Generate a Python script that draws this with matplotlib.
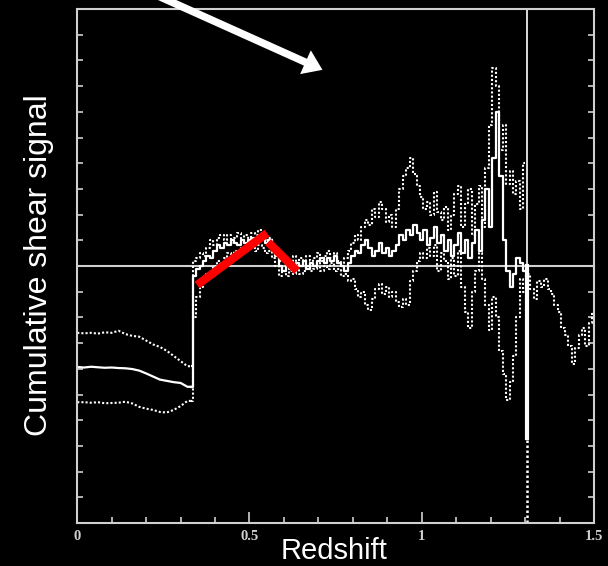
import numpy as np
import matplotlib
matplotlib.use('Agg')
import matplotlib.pyplot as plt
from matplotlib.patches import FancyArrowPatch

# redshift grids
z_low = np.round(np.arange(0.0, 0.321, 0.02), 2)
z_mid = np.round(np.arange(0.33, 1.301, 0.01), 2)
z_tail = np.round(np.arange(1.31, 1.501, 0.01), 2)

# central (solid) curve
mid_low = [-0.393, -0.395, -0.392, -0.394, -0.396, -0.395, -0.397, -0.398, -0.401,
           -0.407, -0.418, -0.43, -0.442, -0.447, -0.452, -0.455, -0.47]
mid_mid = [-0.47, -0.04, -0.01, 0.0, 0.02, 0.04, 0.03, 0.06, 0.08, 0.07,
           0.09, 0.08, 0.10, 0.09, 0.08, 0.10, 0.09, 0.10, 0.11, 0.09,
           0.10, 0.11, 0.09, 0.10, 0.07, 0.04, 0.0, -0.02, 0.01, -0.01,
           -0.02, 0.01, 0.0, 0.02, -0.01, 0.01, 0.0, 0.02, 0.03, 0.01,
           0.03, 0.02, 0.04, 0.01, 0.0, -0.02, 0.01, 0.04, 0.06, 0.05,
           0.08, 0.10, 0.07, 0.04, 0.06, 0.09, 0.05, 0.07, 0.04, 0.06,
           0.08, 0.12, 0.10, 0.14, 0.12, 0.16, 0.13, 0.10, 0.14, 0.08,
           0.11, 0.15, 0.09, 0.12, 0.06, 0.10, 0.04, 0.08, 0.13, 0.05,
           0.10, 0.03, 0.09, 0.14, 0.06, 0.18, 0.30, 0.15, 0.42, 0.60,
           0.35, 0.10, -0.02, -0.08, -0.03, 0.03, 0.01, -0.02]

# upper (dotted) curve
up_low = [-0.26, -0.262, -0.26, -0.263, -0.258, -0.26, -0.252, -0.265, -0.272,
          -0.275, -0.29, -0.305, -0.315, -0.33, -0.35, -0.37, -0.39]
up_mid = [-0.39, 0.02, 0.03, 0.05, 0.04, 0.07, 0.10, 0.08, 0.11, 0.12,
          0.10, 0.12, 0.09, 0.11, 0.13, 0.10, 0.12, 0.11, 0.13, 0.12,
          0.14, 0.12, 0.10, 0.11, 0.08, 0.06, 0.02, 0.03, 0.0, 0.02,
          0.04, 0.01, 0.03, 0.02, 0.04, 0.02, 0.03, 0.05, 0.02, 0.04,
          0.06, 0.03, 0.05, 0.02, 0.01, 0.03, 0.06, 0.09, 0.12, 0.10,
          0.15, 0.18, 0.16, 0.22, 0.19, 0.25, 0.22, 0.17, 0.20, 0.15,
          0.22, 0.30, 0.35, 0.38, 0.42, 0.36, 0.31, 0.27, 0.22, 0.25,
          0.20, 0.29, 0.21, 0.18, 0.23, 0.14, 0.20, 0.28, 0.31, 0.15,
          0.24, 0.30, 0.12, 0.24, 0.31, 0.15, 0.38, 0.55, 0.77, 0.70,
          0.45, 0.55, 0.32, 0.37, 0.28, 0.33, 0.22, 0.40]

# lower (dotted) curve
lo_low = [-0.53, -0.53, -0.532, -0.53, -0.534, -0.533, -0.532, -0.528, -0.535,
          -0.548, -0.555, -0.56, -0.568, -0.57, -0.56, -0.545, -0.525]
lo_mid = [-0.525, -0.20, -0.12, -0.08, -0.06, -0.03, -0.04, 0.0, 0.02, 0.01,
          0.03, 0.05, 0.04, 0.06, 0.05, 0.07, 0.06, 0.08, 0.07, 0.06,
          0.08, 0.07, 0.05, 0.06, 0.03, 0.0, -0.04, -0.02, -0.04, -0.02,
          -0.03, -0.01, -0.03, -0.02, 0.0, -0.02, -0.01, 0.01, -0.02, 0.0,
          -0.01, 0.01, -0.02, -0.01, -0.04, -0.03, -0.06, -0.05, -0.09, -0.12,
          -0.10, -0.15, -0.17, -0.13, -0.09, -0.07, -0.11, -0.08, -0.12, -0.10,
          -0.14, -0.16, -0.13, -0.15, -0.06, -0.02, 0.02, 0.05, 0.03, 0.07,
          0.04, 0.08, -0.02, 0.05, 0.02, -0.05, 0.03, -0.04, 0.06, -0.08,
          -0.18, -0.24, -0.10, -0.02, 0.05, -0.05, -0.15, -0.25, -0.12, -0.20,
          -0.33, -0.42, -0.52, -0.45, -0.35, -0.20, -0.05, -0.10]

# single curve beyond the divergence
tail = [-0.03, -0.09, -0.13, -0.06, -0.08, -0.05, -0.09, -0.11, -0.15, -0.18,
        -0.24, -0.27, -0.31, -0.38, -0.32, -0.27, -0.24, -0.31, -0.22, -0.18]

z_pole = 1.305
pole_mid = [0.0, -0.67]

# red overlay segments
red1_z = [0.348, 0.551]
red1_y = [-0.074, 0.128]
red2_z = [0.554, 0.638]
red2_y = [0.093, -0.019]

fig = plt.figure(figsize=(6.08, 5.66), dpi=100, facecolor='black')
ax = fig.add_axes([0.127, 0.076, 0.85, 0.908], facecolor='black')

grey = '#d0d0d0'
dots = (0, (1, 1))

ax.axhline(0, color=grey, lw=1.5, zorder=1)

# smooth part below the jump
z_left = np.r_[z_low, z_mid[0]]
ax.plot(z_left, up_low + up_mid[:1], color='white', lw=1.5, ls=dots)
ax.plot(z_left, lo_low + lo_mid[:1], color='white', lw=1.5, ls=dots)
ax.plot(z_left, mid_low + mid_mid[:1], color='white', lw=1.6)

# noisy part after the jump
ax.plot(z_mid, up_mid, color='white', lw=1.5, ls=dots, drawstyle='steps-mid')
ax.plot(z_mid, lo_mid, color='white', lw=1.5, ls=dots, drawstyle='steps-mid')
ax.plot(z_mid, mid_mid, color='white', lw=1.6, drawstyle='steps-mid')
ax.plot([z_pole, z_pole], [0.0, 1.05], color='white', lw=1.2)
ax.plot([z_pole, z_pole], [-0.6, -1.05], color='white', lw=1.8, ls=dots)
ax.plot([z_pole, z_pole], pole_mid, color='white', lw=3)
ax.plot(np.r_[z_pole, z_tail], [0.0] + tail, color='white', lw=1.5, ls=dots,
        drawstyle='steps-mid')

ax.plot(red1_z, red1_y, color='#ff0000', lw=6, solid_capstyle='butt', zorder=5)
ax.plot(red2_z, red2_y, color='#ff0000', lw=6, solid_capstyle='butt', zorder=5)

ax.set_xlim(0, 1.5)
ax.set_ylim(-1, 1)
for s in ax.spines.values():
    s.set_color(grey)
    s.set_linewidth(1.5)

ax.set_xticks([0, 0.5, 1, 1.5])
ax.set_xticklabels(['0', '0.5', '1', '1.5'])
ax.set_xticks(np.arange(0, 1.51, 0.1), minor=True)
ax.set_yticks(np.arange(-1, 1.01, 0.1))
ax.set_yticklabels([])
ax.tick_params(axis='x', which='major', direction='in', length=8, width=1.2,
               color=grey, labelcolor=grey, pad=5)
ax.tick_params(axis='x', which='minor', direction='in', length=4, width=1.2, color=grey)
ax.tick_params(axis='y', direction='in', length=4, width=1.2, color=grey,
               left=True, right=True)
for lab in ax.get_xticklabels():
    lab.set_family(['Liberation Serif', 'DejaVu Serif'])
    lab.set_fontweight('bold')
    lab.set_fontsize(10.5)

fig.text(0.064, 0.532, 'Cumulative shear signal', rotation=90, color='white',
         fontsize=23, family=['Liberation Sans', 'DejaVu Sans'], ha='center', va='center')
fig.text(0.55, 0.027, 'Redshift', color='white', fontsize=21,
         family=['Liberation Sans', 'DejaVu Sans'], ha='center', va='center')

arrow = FancyArrowPatch((0.25, 1.012), (0.5345, 0.8746), transform=fig.transFigure,
                        arrowstyle='simple,head_length=0.67,head_width=0.94,tail_width=0.27',
                        mutation_scale=20, color='white', lw=0)
fig.patches.append(arrow)

fig.savefig('out.png', dpi=100, facecolor='black')
